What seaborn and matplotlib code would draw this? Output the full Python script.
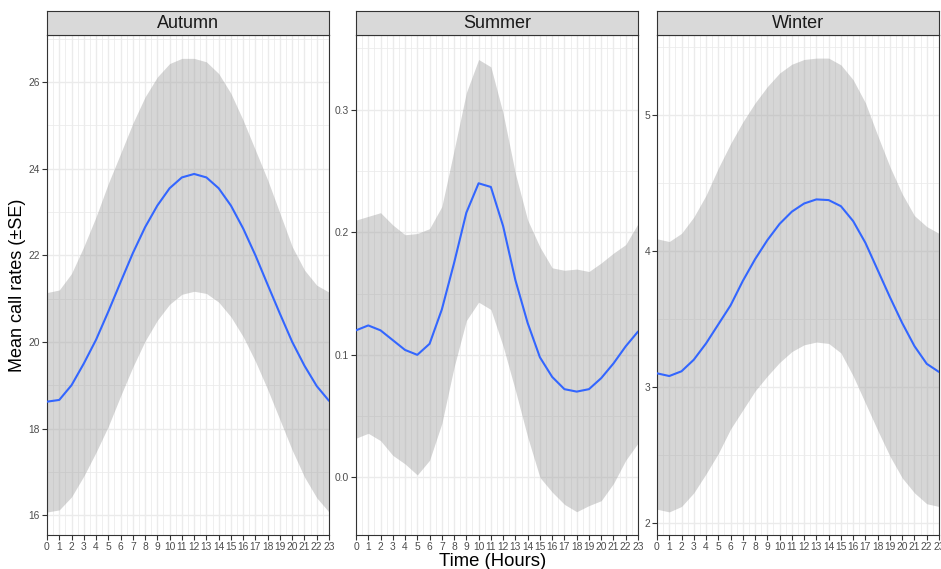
import matplotlib
matplotlib.use("Agg")
import matplotlib.pyplot as plt
from matplotlib.ticker import FixedLocator
import pandas as pd
import seaborn as sns

hours = list(range(24))
seasons = ["Autumn", "Summer", "Winter"]

autumn_mean = [18.62, 18.66, 19.00, 19.50, 20.05, 20.70, 21.38, 22.05, 22.65, 23.15, 23.55, 23.80,
               23.88, 23.80, 23.55, 23.15, 22.62, 22.00, 21.32, 20.65, 20.00, 19.45, 18.98, 18.64]
autumn_upper = [21.14, 21.20, 21.58, 22.20, 22.89, 23.66, 24.35, 25.05, 25.66, 26.12, 26.43, 26.55,
                26.55, 26.47, 26.20, 25.74, 25.12, 24.43, 23.74, 22.97, 22.20, 21.66, 21.31, 21.15]
autumn_lower = [16.07, 16.12, 16.42, 16.90, 17.45, 18.05, 18.75, 19.42, 20.02, 20.50, 20.87, 21.10,
                21.17, 21.12, 20.92, 20.58, 20.12, 19.55, 18.90, 18.20, 17.50, 16.88, 16.40, 16.07]

summer_mean = [0.120, 0.124, 0.120, 0.112, 0.104, 0.100, 0.109, 0.137, 0.175, 0.216, 0.240, 0.237,
               0.205, 0.161, 0.126, 0.098, 0.082, 0.072, 0.070, 0.072, 0.081, 0.093, 0.107, 0.119]
summer_upper = [0.210, 0.213, 0.216, 0.206, 0.198, 0.199, 0.203, 0.221, 0.267, 0.314, 0.341, 0.335,
                0.297, 0.248, 0.210, 0.188, 0.171, 0.169, 0.170, 0.168, 0.175, 0.183, 0.190, 0.207]
summer_lower = [0.032, 0.036, 0.030, 0.018, 0.011, 0.002, 0.014, 0.044, 0.090, 0.128, 0.143, 0.137,
                0.107, 0.071, 0.033, 0.000, -0.012, -0.022, -0.028, -0.023, -0.019, -0.005, 0.014, 0.028]

winter_mean = [3.10, 3.08, 3.115, 3.20, 3.32, 3.46, 3.60, 3.78, 3.94, 4.08, 4.20, 4.29,
               4.35, 4.38, 4.375, 4.33, 4.22, 4.06, 3.86, 3.66, 3.47, 3.30, 3.17, 3.11]
winter_upper = [4.09, 4.07, 4.13, 4.25, 4.41, 4.61, 4.79, 4.95, 5.09, 5.21, 5.31, 5.375,
                5.41, 5.42, 5.42, 5.37, 5.26, 5.09, 4.85, 4.62, 4.42, 4.26, 4.18, 4.13]
winter_lower = [2.10, 2.08, 2.12, 2.22, 2.36, 2.51, 2.69, 2.83, 2.97, 3.08, 3.18, 3.26,
                3.31, 3.33, 3.32, 3.25, 3.08, 2.88, 2.68, 2.49, 2.33, 2.22, 2.14, 2.12]

y_limits = {"Autumn": (15.54, 27.09), "Summer": (-0.047, 0.361), "Winter": (1.91, 5.59)}
y_major = {"Autumn": [16, 18, 20, 22, 24, 26], "Summer": [0.0, 0.1, 0.2, 0.3], "Winter": [2, 3, 4, 5]}
y_minor = {"Autumn": [17, 19, 21, 23, 25, 27], "Summer": [0.05, 0.15, 0.25, 0.35], "Winter": [2.5, 3.5, 4.5, 5.5]}
y_fmt = {"Autumn": "{:.0f}", "Summer": "{:.1f}", "Winter": "{:.0f}"}

frames = []
for name, m, u, l in [("Autumn", autumn_mean, autumn_upper, autumn_lower),
                      ("Summer", summer_mean, summer_upper, summer_lower),
                      ("Winter", winter_mean, winter_upper, winter_lower)]:
    frames.append(pd.DataFrame({"season": name, "hour": hours, "mean": m, "upper": u, "lower": l}))
df = pd.concat(frames, ignore_index=True)

sns.set_theme(style="white")
plt.rcParams["font.family"] = ["Liberation Sans", "DejaVu Sans"]

W, H = 941, 569
fig = plt.figure(figsize=(W / 100, H / 100), dpi=100)

panels_px = [(47, 329), (356, 638), (657, 939)]
top_px, bottom_px, strip_top_px = 35, 535, 11

grid_col = "#ebebeb"
border_col = "#333333"

for (x0, x1), season in zip(panels_px, seasons):
    ax = fig.add_axes([x0 / W, 1 - bottom_px / H, (x1 - x0) / W, (bottom_px - top_px) / H])
    sub = df[df["season"] == season]

    ax.set_xlim(0, 23)
    ax.set_ylim(*y_limits[season])
    ax.xaxis.set_major_locator(FixedLocator(hours))
    ax.xaxis.set_minor_locator(FixedLocator([h + 0.5 for h in hours[:-1]]))
    ax.yaxis.set_major_locator(FixedLocator(y_major[season]))
    ax.yaxis.set_minor_locator(FixedLocator(y_minor[season]))
    ax.set_xticklabels([str(h) for h in hours])
    ax.set_yticklabels([y_fmt[season].format(v) for v in y_major[season]])

    ax.grid(True, which="major", color=grid_col, linewidth=1.0, zorder=0)
    ax.grid(True, which="minor", color=grid_col, linewidth=0.55, zorder=0)
    ax.set_axisbelow(True)

    # standard-error band and mean curve
    ax.fill_between(sub["hour"], sub["lower"], sub["upper"], color="#999999", alpha=0.4,
                    linewidth=0, zorder=2)
    sns.lineplot(data=sub, x="hour", y="mean", ax=ax, color="#3366FF", linewidth=1.5, zorder=3)

    ax.set_xlabel("")
    ax.set_ylabel("")
    ax.tick_params(axis="both", which="major", bottom=True, left=True, length=3.5, width=0.8,
                   color=border_col, labelsize=7.4, labelcolor="#4d4d4d", pad=1.5)
    ax.tick_params(axis="both", which="minor", bottom=False, left=False, length=0)
    for sp in ax.spines.values():
        sp.set_color(border_col)
        sp.set_linewidth(0.8)
        sp.set_visible(True)

    # facet strip
    sax = fig.add_axes([x0 / W, 1 - top_px / H, (x1 - x0) / W, (top_px - strip_top_px) / H])
    sax.set_facecolor("#d9d9d9")
    sax.set_xticks([])
    sax.set_yticks([])
    for sp in sax.spines.values():
        sp.set_color(border_col)
        sp.set_linewidth(0.8)
        sp.set_visible(True)
    sax.text(0.5, 0.48, season, ha="center", va="center", fontsize=13, color="#1a1a1a",
             transform=sax.transAxes)

fig.text(493 / W, 1 - 561 / H, "Time (Hours)", ha="center", va="center", fontsize=13.3, color="black")
fig.text(18 / W, 1 - 285 / H, "Mean call rates (\u00b1SE)", ha="center", va="center",
         rotation=90, fontsize=13, color="black")

fig.savefig("out.png", dpi=100)
